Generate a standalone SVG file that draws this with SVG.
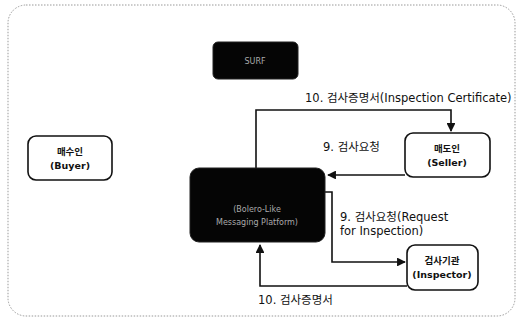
<svg xmlns="http://www.w3.org/2000/svg" width="520" height="324" viewBox="0 0 520 324">
<defs>
<style>
.lbl{font-family:"DejaVu Sans","Noto Sans CJK KR",sans-serif;font-size:11.5px;fill:#111}
.nt{font-family:"DejaVu Sans","Noto Sans CJK KR",sans-serif;font-size:9.5px;font-weight:bold;fill:#111;text-anchor:middle}
.dt{font-family:"DejaVu Sans","Noto Sans CJK KR",sans-serif;font-size:8px;fill:#aaa;text-anchor:middle}
.box{fill:#fff;stroke:#111;stroke-width:1.6}
.dark{fill:#050505;stroke:#222;stroke-width:1}
.cn{fill:none;stroke:#111;stroke-width:1.6}
</style>
<marker id="ah" viewBox="0 0 10 10" refX="9" refY="5" markerWidth="6" markerHeight="5.5" orient="auto" markerUnits="strokeWidth">
<path d="M0,0 L10,5 L0,10 z" fill="#111"/>
</marker>
</defs>
<rect x="0" y="0" width="520" height="324" fill="#fff"/>
<rect x="8" y="5" width="507" height="311" rx="18" fill="none" stroke="#999" stroke-width="1" stroke-dasharray="1.5,1.5"/>
<g id="connectors">
<polyline class="cn" points="256,168 256,110 451,110 451,131" marker-end="url(#ah)"/>
<line class="cn" x1="405" y1="175" x2="328" y2="175" marker-end="url(#ah)"/>
<polyline class="cn" points="325,192 332,192 332,262 405,262" marker-end="url(#ah)"/>
<polyline class="cn" points="407,286 260,286 260,245" marker-end="url(#ah)"/>
<text class="lbl" x="305" y="102">10. 검사증명서(Inspection Certificate)</text>
<text class="lbl" x="323" y="151">9. 검사요청</text>
<text class="lbl" x="340" y="221">9. 검사요청(Request</text>
<text class="lbl" x="340" y="235">for Inspection)</text>
<text class="lbl" x="258" y="304">10. 검사증명서</text>
</g>
<g id="surf">
<rect class="dark" x="213" y="42" width="85" height="37" rx="5"/>
<text class="dt" x="255" y="64">SURF</text>
</g>
<g id="buyer">
<rect class="box" x="28" y="136" width="84" height="44" rx="8"/>
<text class="nt" x="70" y="155">매수인</text>
<text class="nt" x="70" y="169">(Buyer)</text>
</g>
<g id="platform">
<rect class="dark" x="190" y="168" width="135" height="74" rx="9"/>
<text class="dt" x="257" y="212">(Bolero-Like</text>
<text class="dt" x="257" y="225">Messaging Platform)</text>
</g>
<g id="seller">
<rect class="box" x="405" y="133" width="85" height="44" rx="8"/>
<text class="nt" x="447" y="152">매도인</text>
<text class="nt" x="447" y="166">(Seller)</text>
</g>
<g id="inspector">
<rect class="box" x="407" y="245" width="71" height="45" rx="8"/>
<text class="nt" x="442" y="264">검사기관</text>
<text class="nt" x="442" y="278">(Inspector)</text>
</g>
</svg>
